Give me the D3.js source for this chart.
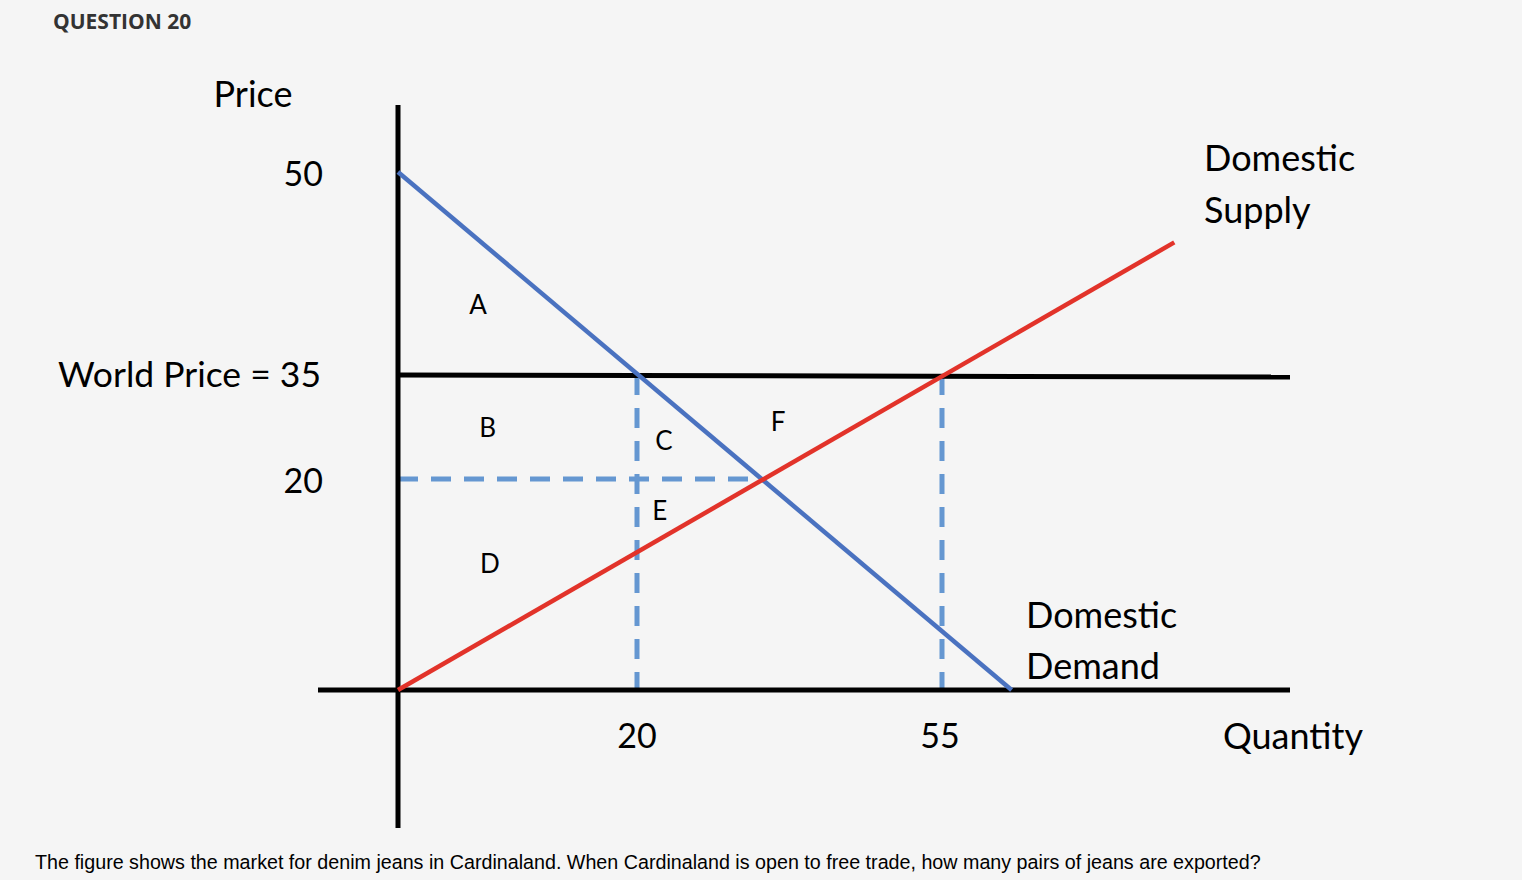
<!DOCTYPE html>
<html>
<head>
<meta charset="utf-8">
<script src="https://cdn.jsdelivr.net/npm/d3@7"></script>
<style>
  html, body { margin: 0; padding: 0; background: #f5f5f5; }
  svg { display: block; }
</style>
</head>
<body>
<div id="chart"></div>
<script>
// values
var qTicks = [20, 55];
var pTicks = [50, 20];
var worldPrice = 35;
var demand = [{q: 0, p: 50}, {q: 63, p: 0}];
var supply = [{q: 0, p: 0}, {q: 81.7, p: 44.8}];
var equilibrium = {q: 34.1, p: 20};
var areaLabels = [
  {name: "A", q: 6.7, p: 40.2},
  {name: "B", q: 7.5, p: 27.4},
  {name: "C", q: 23.1, p: 25.5},
  {name: "D", q: 7.7, p: 12.0},
  {name: "E", q: 22.6, p: 17.0},
  {name: "F", q: 36.2, p: 28.2}
];

var width = 1522, height = 880;

var svg = d3.select("#chart")
  .append("svg")
    .attr("width", width)
    .attr("height", height);

// the hand drawn axes are not evenly spaced, so piecewise scales
var x = d3.scaleLinear()
  .domain([0, 20, 55, 95])
  .range([398, 637, 942, 1290]);
var y = d3.scaleLinear()
  .domain([0, 20, 35, 50])
  .range([690, 479, 375, 172]);

var line = d3.line()
  .x(function(d) { return x(d.q); })
  .y(function(d) { return y(d.p); });

var chartFont = "Lato, 'Open Sans', sans-serif";
var dashBlue = "#6597d1";

// dashed guides
svg.append("line")
  .attr("x1", x(0)).attr("x2", x(equilibrium.q))
  .attr("y1", y(equilibrium.p)).attr("y2", y(equilibrium.p))
  .attr("stroke", dashBlue).attr("stroke-width", 5)
  .attr("stroke-dasharray", "20,13");

svg.selectAll("vGuides")
  .data(qTicks)
  .enter()
  .append("line")
    .attr("x1", function(d) { return x(d); })
    .attr("x2", function(d) { return x(d); })
    .attr("y1", y(worldPrice))
    .attr("y2", y(0))
    .attr("stroke", dashBlue).attr("stroke-width", 5)
    .attr("stroke-dasharray", "20,13");

// axes
svg.append("line")
  .attr("x1", x(0)).attr("x2", x(0))
  .attr("y1", 105).attr("y2", 828)
  .attr("stroke", "#000").attr("stroke-width", 5);
svg.append("line")
  .attr("x1", 318).attr("x2", x(95))
  .attr("y1", y(0)).attr("y2", y(0))
  .attr("stroke", "#000").attr("stroke-width", 5);

// world price line
svg.append("line")
  .attr("x1", x(0)).attr("x2", x(95))
  .attr("y1", y(worldPrice)).attr("y2", y(worldPrice) + 2)
  .attr("stroke", "#000").attr("stroke-width", 5);

// demand and supply
svg.append("path")
  .attr("d", line(demand))
  .attr("stroke", "#4a72c0")
  .attr("stroke-width", 4.5)
  .attr("fill", "none");
svg.append("path")
  .attr("d", line(supply))
  .attr("stroke", "#e2332a")
  .attr("stroke-width", 4.5)
  .attr("fill", "none");

// axis texts
svg.selectAll("pLabels")
  .data(pTicks)
  .enter()
  .append("text")
    .attr("x", 323)
    .attr("y", function(d) { return y(d) + 2; })
    .attr("dy", "0.35em")
    .attr("text-anchor", "end")
    .style("font-family", chartFont)
    .style("font-size", "34px")
    .text(function(d) { return d; });

svg.append("text")
  .attr("x", 321)
  .attr("y", y(worldPrice))
  .attr("dy", "0.35em")
  .attr("text-anchor", "end")
  .style("font-family", chartFont)
  .style("font-size", "35.5px")
  .text("World Price = " + worldPrice);

svg.selectAll("qLabels")
  .data(qTicks)
  .enter()
  .append("text")
    .attr("x", function(d) { return x(d) - (d > 50 ? 2 : 0); })
    .attr("y", 748)
    .attr("text-anchor", "middle")
    .style("font-family", chartFont)
    .style("font-size", "34px")
    .text(function(d) { return d; });

svg.append("text")
  .attr("x", 253).attr("y", 107)
  .attr("text-anchor", "middle")
  .style("font-family", chartFont)
  .style("font-size", "36px")
  .text("Price");

svg.append("text")
  .attr("x", 1223).attr("y", 749)
  .style("font-family", chartFont)
  .style("font-size", "36px")
  .text("Quantity");

var supplyLabel = svg.append("text")
  .attr("x", 1204).attr("y", 171)
  .style("font-family", chartFont)
  .style("font-size", "36px");
supplyLabel.append("tspan").attr("x", 1204).text("Domestic");
supplyLabel.append("tspan").attr("x", 1204).attr("dy", 52).text("Supply");

var demandLabel = svg.append("text")
  .attr("x", 1026).attr("y", 628)
  .style("font-family", chartFont)
  .style("font-size", "36px");
demandLabel.append("tspan").attr("x", 1026).text("Domestic");
demandLabel.append("tspan").attr("x", 1026).attr("dy", 51).text("Demand");

// area letters
svg.selectAll("areas")
  .data(areaLabels)
  .enter()
  .append("text")
    .attr("x", function(d) { return x(d.q); })
    .attr("y", function(d) { return y(d.p); })
    .attr("dy", "0.35em")
    .attr("text-anchor", "middle")
    .style("font-family", chartFont)
    .style("font-size", "26px")
    .text(function(d) { return d.name; });

// question header and footer
svg.append("text")
  .attr("x", 53).attr("y", 29)
  .style("font-family", "'Open Sans', sans-serif")
  .style("font-weight", "bold")
  .style("font-size", "21px")
  .style("fill", "#333")
  .text("QUESTION 20");

svg.append("text")
  .attr("x", 35).attr("y", 869)
  .style("font-family", "'Liberation Sans', Arial, sans-serif")
  .style("font-size", "19.7px")
  .text("The figure shows the market for denim jeans in Cardinaland. When Cardinaland is open to free trade, how many pairs of jeans are exported?");
</script>
</body>
</html>
